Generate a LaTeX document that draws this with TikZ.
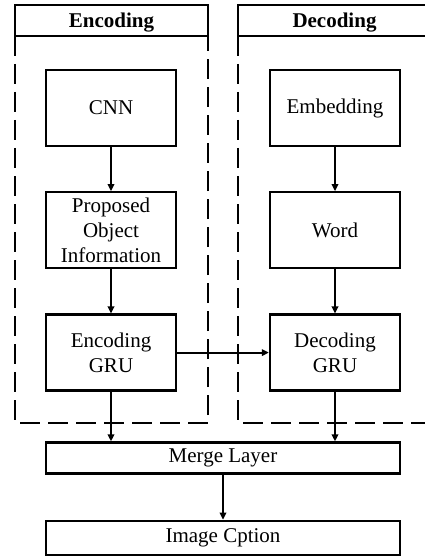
\documentclass[tikz,border=0pt]{standalone}
\usepackage{fontspec}
\setmainfont{Liberation Serif}
\usetikzlibrary{positioning,arrows.meta}

\begin{document}
\begin{tikzpicture}[x=1pt,y=-1pt,line width=2.3pt,
    every node/.style={font=\fontsize{21}{25}\selectfont},
    block/.style={draw,minimum width=130pt,minimum height=76pt,align=center,inner sep=2pt},
    wide/.style={draw,minimum width=354pt,minimum height=31pt,inner sep=2pt},
    header/.style={draw,minimum width=193pt,minimum height=31pt,text depth=0pt,font=\fontsize{21}{25}\selectfont\bfseries},
    region/.style={dash pattern=on 20pt off 8pt},
    arr/.style={-{Triangle[length=7pt,width=6.5pt]},line width=2pt}]
                \useasboundingbox (0,0) rectangle (425,556);
                \clip (0,0) rectangle (425,556);
                % encoder column
                \node[header] (enchead) at (111.5,20.5) {Encoding};
                \draw[region] (15,36) -- (15,423) -- (208,423) -- (208,36);
                \node[block] (cnn) at (111,108) {CNN};
                \node[block,below=44pt of cnn] (poi) {Proposed\\Object\\Information};
                \node[block,below=44pt of poi] (egru) {Encoding\\GRU};
                % decoder column
                \node[header] (dechead) at (334.5,20.5) {Decoding};
                \draw[region] (238,36) -- (238,423) -- (445,423) -- (445,36);
                \node[block] (emb) at (335,108) {Embedding};
                \node[block,below=44pt of emb] (word) {Word};
                \node[block,below=44pt of word] (dgru) {Decoding\\GRU};
                % output
                \node[wide] (merge) at (223,458) {Merge Layer};
                \node[wide,minimum height=34pt,below=45pt of merge] (cap) {Image Cption};
                \path[draw,arr] (cnn) -- (poi);
                \path[draw,arr] (poi) -- (egru);
                \path[draw,arr] (emb) -- (word);
                \path[draw,arr] (word) -- (dgru);
                \path[draw,arr] (egru) -- (dgru);
                \path[draw,arr] (egru) -- (egru |- merge.north);
                \path[draw,arr] (dgru) -- (dgru |- merge.north);
                \path[draw,arr] (merge) -- (cap);
            \end{tikzpicture}
\end{document}
